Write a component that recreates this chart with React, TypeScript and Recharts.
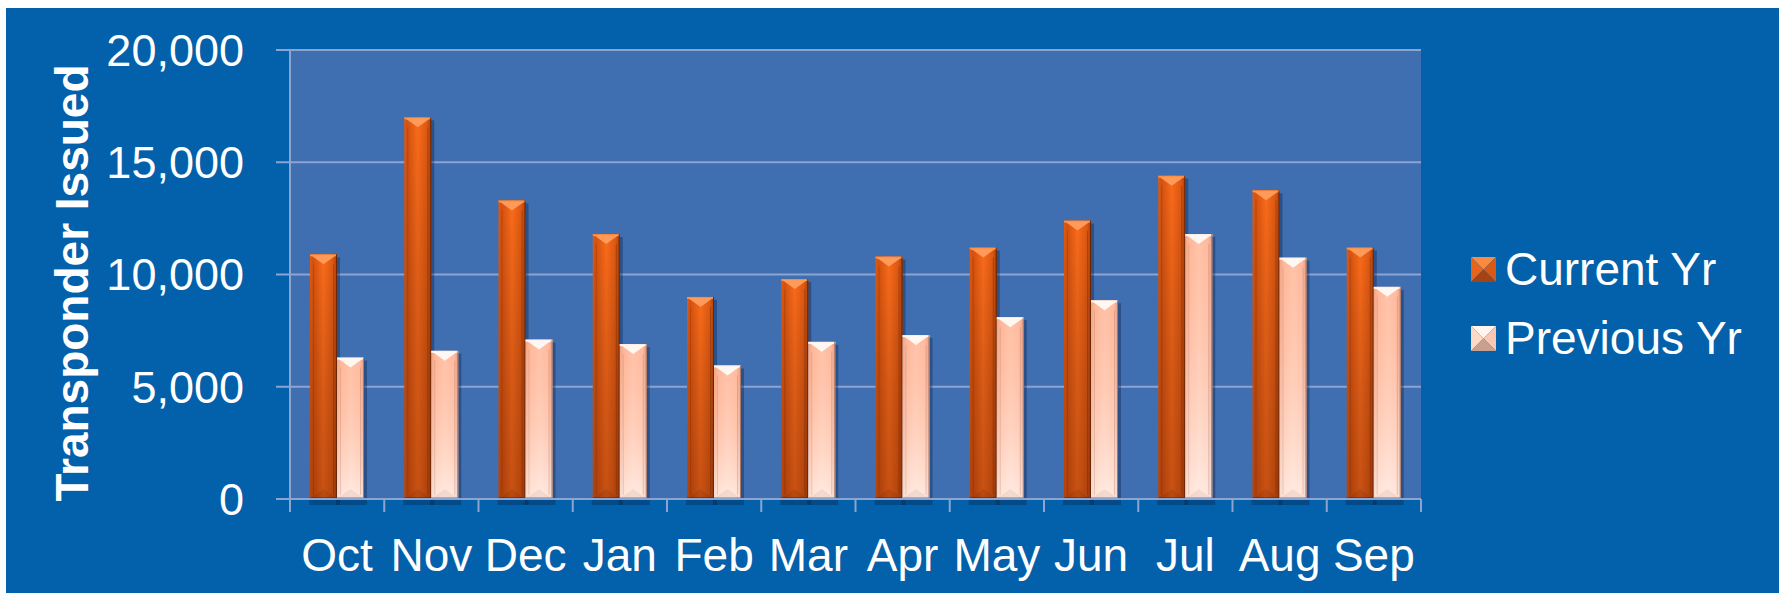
import { Bar, BarChart, CartesianGrid, Label, Legend, XAxis, YAxis } from "recharts";

const months = ["Oct", "Nov", "Dec", "Jan", "Feb", "Mar", "Apr", "May", "Jun", "Jul", "Aug", "Sep"];
const currentYr = [10900, 17000, 13300, 11800, 9000, 9800, 10800, 11200, 12400, 14400, 13750, 11200];
const previousYr = [6300, 6600, 7100, 6900, 5950, 7000, 7300, 8100, 8850, 11800, 10750, 9450];
const yTicks = [0, 5000, 10000, 15000, 20000];

const data = months.map((month, i) => ({ month, current: currentYr[i], previous: previousYr[i] }));

const W = 1773;
const H = 585;
const PLOT_LEFT = 284;
const PLOT_RIGHT = 1415;
const PLOT_TOP = 42;
const X_AXIS_H = 94;
const PLOT_BOTTOM = H - X_AXIS_H;
const GRID = "#8ca4cf";
const FONT = "'Liberation Sans', Arial, sans-serif";

const MonthTick = (props: any) => {
  const { x, payload, index } = props;
  const band = (PLOT_RIGHT - PLOT_LEFT) / months.length;
  return (
    <g>
      <line x1={x - band / 2} x2={x - band / 2} y1={PLOT_BOTTOM} y2={PLOT_BOTTOM + 13} stroke={GRID} strokeWidth={2} />
      {index === months.length - 1 && (
        <line x1={x + band / 2} x2={x + band / 2} y1={PLOT_BOTTOM} y2={PLOT_BOTTOM + 13} stroke={GRID} strokeWidth={2} />
      )}
      <text x={x} y={PLOT_BOTTOM + 72} textAnchor="middle" fill="#fff" fontSize={46}>
        {payload.value}
      </text>
    </g>
  );
};

// bar with a pyramid-ish cap, bevel edges and a soft drop shadow
const makeShape = (kind: "cur" | "prev") => (props: any) => {
  const { x, y, width, height } = props;
  if (!height || height <= 0) return <g />;
  const w = width;
  const cap = 10;
  const cur = kind === "cur";
  return (
    <g>
      <rect x={x + 3} y={y + 3} width={w} height={height - 2} fill="rgba(10,25,60,0.35)" />
      <rect x={x - 1} y={y + height + 1} width={w + 4} height={5} fill="rgba(0,25,60,0.3)" />
      <rect x={x} y={y} width={w} height={height} fill={`url(#${kind}-h)`} />
      <rect x={x} y={y} width={w} height={height} fill={`url(#${kind}-v)`} />
      <line x1={x + 3.5} x2={x + 3.5} y1={y + cap} y2={y + height - 4} stroke={cur ? "rgba(120,40,0,0.25)" : "rgba(170,110,90,0.25)"} />
      <line x1={x + w - 3.5} x2={x + w - 3.5} y1={y + cap} y2={y + height - 4} stroke={cur ? "rgba(90,30,0,0.3)" : "rgba(170,110,90,0.3)"} />
      <polygon
        points={`${x + 1},${y + height - 1} ${x + w - 1},${y + height - 1} ${x + w / 2},${y + height - cap}`}
        fill={cur ? "rgba(60,15,0,0.1)" : "rgba(140,80,60,0.1)"}
      />
      <rect x={x} y={y + height - 2} width={w} height={2} fill={cur ? "rgba(70,20,0,0.35)" : "rgba(150,100,80,0.45)"} />
      <rect x={x} y={y} width={w} height={2} fill={cur ? "#ff8a3c" : "#fff2ea"} />
      <polygon
        points={`${x + 1},${y + 1} ${x + w - 1},${y + 1} ${x + w / 2},${y + cap}`}
        fill={cur ? "#ff9a58" : "#fff8f2"}
      />
      <line
        x1={x + w - 0.5}
        x2={x + w - 0.5}
        y1={y}
        y2={y + height}
        stroke={cur ? "#6a2606" : "#a87868"}
        strokeWidth={1}
      />
    </g>
  );
};

const LegendIcon = ({ kind }: { kind: "cur" | "prev" }) => {
  const c =
    kind === "cur"
      ? { t: "#f98a40", l: "#e8641a", r: "#d85a14", b: "#a84210" }
      : { t: "#fff4ee", l: "#fcd8c6", r: "#f6c8b4", b: "#c8a090" };
  return (
    <svg width={25} height={25} style={{ display: "block" }}>
      <polygon points="0,0 25,0 12.5,12.5" fill={c.t} />
      <polygon points="0,0 12.5,12.5 0,25" fill={c.l} />
      <polygon points="25,0 25,25 12.5,12.5" fill={c.r} />
      <polygon points="0,25 12.5,12.5 25,25" fill={c.b} />
    </svg>
  );
};

const legendItems: { kind: "cur" | "prev"; label: string }[] = [
  { kind: "cur", label: "Current Yr" },
  { kind: "prev", label: "Previous Yr" },
];

const LegendContent = () => (
  <div style={{ display: "flex", flexDirection: "column", gap: 23 }}>
    {legendItems.map((it) => (
      <div key={it.kind} style={{ display: "flex", alignItems: "center", height: 46 }}>
        <LegendIcon kind={it.kind} />
        <span style={{ color: "#fff", fontSize: 46, lineHeight: "46px", marginLeft: 9, whiteSpace: "nowrap" }}>
          {it.label}
        </span>
      </div>
    ))}
  </div>
);

export default function App() {
  return (
    <div
      style={{
        position: "fixed",
        left: 6,
        top: 8,
        width: W,
        height: H,
        background: "#0360aa",
        fontFamily: FONT,
      }}
    >
      <BarChart
        width={W}
        height={H}
        data={data}
        margin={{ top: PLOT_TOP, right: W - PLOT_RIGHT, bottom: 0, left: 0 }}
        barGap={0}
        barSize={27}
      >
        <defs>
          <linearGradient id="cur-h" x1="0" y1="0" x2="1" y2="0">
            <stop offset="0" stopColor="#e05a14" />
            <stop offset="0.12" stopColor="#d4520f" />
            <stop offset="0.5" stopColor="#fb6b1a" />
            <stop offset="0.85" stopColor="#dc5812" />
            <stop offset="1" stopColor="#a8400a" />
          </linearGradient>
          <linearGradient id="cur-v" x1="0" y1="0" x2="0" y2="1">
            <stop offset="0" stopColor="#000" stopOpacity={0} />
            <stop offset="1" stopColor="#501400" stopOpacity={0.3} />
          </linearGradient>
          <linearGradient id="prev-h" x1="0" y1="0" x2="1" y2="0">
            <stop offset="0" stopColor="#e8a890" />
            <stop offset="0.15" stopColor="#ffc0a4" />
            <stop offset="0.5" stopColor="#ffd0bc" />
            <stop offset="0.85" stopColor="#ffc4ac" />
            <stop offset="1" stopColor="#d89c88" />
          </linearGradient>
          <linearGradient id="prev-v" x1="0" y1="0" x2="0" y2="1">
            <stop offset="0" stopColor="#ff9a70" stopOpacity={0.25} />
            <stop offset="1" stopColor="#ffffff" stopOpacity={0.6} />
          </linearGradient>
        </defs>
        <CartesianGrid horizontal vertical={false} stroke={GRID} strokeWidth={2} fill="#3f6fb1" fillOpacity={1} />
        <XAxis
          dataKey="month"
          height={X_AXIS_H}
          interval={0}
          tickLine={false}
          axisLine={{ stroke: GRID, strokeWidth: 2 }}
          tick={<MonthTick />}
        />
        <YAxis
          width={PLOT_LEFT}
          domain={[0, 20000]}
          ticks={yTicks}
          tickFormatter={(v: number) => v.toLocaleString("en-US")}
          tick={{ fill: "#fff", fontSize: 45 }}
          tickSize={14}
          tickMargin={32}
          tickLine={{ stroke: GRID, strokeWidth: 2 }}
          axisLine={{ stroke: GRID, strokeWidth: 2 }}
        >
          <Label
            content={() => (
              <text
                transform="translate(82,275) rotate(-90)"
                textAnchor="middle"
                fill="#fff"
                fontSize={46}
                fontWeight="bold"
              >
                Transponder Issued
              </text>
            )}
          />
        </YAxis>
        <Legend
          layout="vertical"
          align="center"
          verticalAlign="middle"
          content={<LegendContent />}
          wrapperStyle={{ position: "absolute", left: 1465, top: 238, width: 300, height: 140 }}
        />
        <Bar dataKey="current" name="Current Yr" shape={makeShape("cur")} isAnimationActive={false} />
        <Bar dataKey="previous" name="Previous Yr" shape={makeShape("prev")} isAnimationActive={false} />
      </BarChart>
    </div>
  );
}
